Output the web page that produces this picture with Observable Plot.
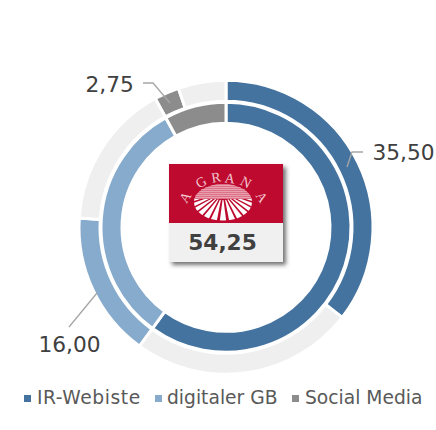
<!DOCTYPE html>
<html>
<head>
<meta charset="utf-8">
<script src="https://cdn.jsdelivr.net/npm/d3@7"></script>
<script src="https://cdn.jsdelivr.net/npm/@observablehq/plot@0.6"></script>
<style>
html,body{margin:0;padding:0;background:#fff;width:436px;height:430px;overflow:hidden}
#chart svg{display:block}
#legend{position:relative;height:50px;font:18.7px "DejaVu Sans",sans-serif;color:#595959}
#legend span{position:absolute;top:7px;white-space:nowrap;line-height:22px}
#legend i{position:absolute;width:7px;height:7px;top:15px}
</style>
</head>
<body>
<div id="chart"></div>
<div id="legend"></div>
<script>
const series = ["IR-Webiste", "digitaler GB", "Social Media"];
const colors = ["#44739f", "#87abcd", "#8c8c8c"];
const restColor = "#efefef";
const values = [35.5, 16.0, 2.75];
const valueLabels = ["35,50", "16,00", "2,75"];
const total = "54,25";
const ringStart = [0, 60, 92];
const innerShare = [60, 32, 8];
const rest = "rest";

const outerSegments = [
  ...series.map((s, i) => ({ s, a: ringStart[i], b: ringStart[i] + values[i], t0: .55, t1: 1 })),
  ...series.map((s, i) => ({ s: rest, a: ringStart[i] + values[i], b: ringStart[i + 1] ?? 100, t0: .55, t1: 1 }))
];
const innerSegments = series.map((s, i) => ({ s, a: ringStart[i], b: ringStart[i] + innerShare[i], t0: 0, t1: .45 }));

const cx = 226, cy = 227.3, gap = 3;

function polar(index, scales, v) {
  const g = d3.create("svg:g").attr("transform", `translate(${cx},${cy})`);
  const arc = d3.arc();
  for (const i of index) {
    g.append("path")
      .attr("d", arc({
        startAngle: v.x1[i] * Math.PI / 180,
        endAngle: v.x2[i] * Math.PI / 180,
        innerRadius: v.y1[i] - gap / 2,
        outerRadius: v.y2[i] + gap / 2
      }))
      .attr("fill", v.fill[i])
      .attr("stroke", "#fff")
      .attr("stroke-width", gap);
  }
  return g.node();
}

function leaders() {
  const g = d3.create("svg:g").attr("fill", "none").attr("stroke", "#a6a6a6").attr("stroke-width", 1.3);
  for (const p of [
    [[143, 83], [153, 83], [170, 103]],
    [[363, 152], [352, 152], [347, 167]],
    [[69, 327], [97, 293]]
  ]) g.append("path").attr("d", d3.line()(p));
  return g.node();
}

function logo() {
  const ns = d3.create("svg:g");
  const defs = ns.append("defs");
  defs.append("filter").attr("id", "sh").attr("x", "-10%").attr("y", "-10%").attr("width", "125%").attr("height", "125%")
    .append("feDropShadow").attr("dx", 3).attr("dy", 3).attr("stdDeviation", 2).attr("flood-color", "#444").attr("flood-opacity", .75);
  const cp = defs.append("clipPath").attr("id", "lo");
  cp.append("ellipse").attr("cx", 223).attr("cy", 202.3).attr("rx", 29).attr("ry", 18.3);
  ns.append("rect").attr("x", 169).attr("y", 164).attr("width", 114).attr("height", 98).attr("fill", "#f0f0f0").attr("filter", "url(#sh)");
  ns.append("rect").attr("x", 169).attr("y", 164).attr("width", 114).attr("height", 59).attr("fill", "#bd0a2e");
  const e = ns.append("g").attr("clip-path", "url(#lo)");
  e.append("rect").attr("x", 190).attr("y", 184).attr("width", 66).attr("height", 15).attr("fill", "#dc7288");
  for (let y = 185; y < 199; y += 2) e.append("rect").attr("x", 190).attr("y", y).attr("width", 66).attr("height", 1).attr("fill", "#ea9fae");
  const fan = [-80,-68,-56,-45,-34,-23,-12,0,12,23,34,45,56,68,80];
  for (const d of fan) {
    const t = d * Math.PI / 180, w = .075;
    const pt = (a, r) => [223 + r * Math.sin(a) * 1.55, 192 + r * Math.cos(a)];
    e.append("path").attr("fill", "#fff").attr("d", d3.line()([pt(t - w * .5, 8), pt(t + w * .5, 8), pt(t + w, 40), pt(t - w, 40)]) + "Z");
  }
  e.append("rect").attr("x", 190).attr("y", 184).attr("width", 66).attr("height", 15).attr("fill", "#dc7288");
  for (let y = 185; y < 199; y += 2) e.append("rect").attr("x", 190).attr("y", y).attr("width", 66).attr("height", 1).attr("fill", "#ea9fae");
  const letters = [["A",185,197,-58],["G",201,182,-30],["R",216,177,-10],["A",230,178,8],["N",246,182,28],["A",262,197,56]];
  for (const [c, x, y, r] of letters)
    ns.append("text").text(c).attr("transform", `translate(${x},${y}) rotate(${r})`).attr("text-anchor", "middle").attr("dy", ".35em")
      .attr("font-family", "Liberation Serif").attr("font-size", 14).attr("fill", "#f4c6d0");
  return ns.node();
}

const labelStyle = { frameAnchor: "top-left", fontFamily: "DejaVu Sans", fontSize: 21.7, fill: "#404040", textAnchor: "start", lineAnchor: "middle" };

const plot = Plot.plot({
  width: 436,
  height: 380,
  margin: 0,
  style: { background: "#fff", overflow: "visible" },
  x: { domain: [0, 100], range: [0, 360], axis: null },
  y: { domain: [0, 1], range: [105.5, 145.5], axis: null },
  color: { domain: [...series, rest], range: [...colors, restColor] },
  marks: [
    Plot.rect([...outerSegments, ...innerSegments], {
      x1: "a", x2: "b", y1: "t0", y2: "t1", fill: "s",
      render: (index, scales, v) => polar(index, scales, v)
    }),
    leaders,
    logo,
    Plot.text([total], { text: d => d, frameAnchor: "top-left", dx: 222, dy: 243, textAnchor: "middle", lineAnchor: "middle", fontFamily: "DejaVu Sans", fontWeight: "bold", fontSize: 21.7, fill: "#404040" }),
    Plot.text([valueLabels[0]], { text: d => d, ...labelStyle, dx: 372, dy: 153 }),
    Plot.text([valueLabels[1]], { text: d => d, ...labelStyle, dx: 38, dy: 345 }),
    Plot.text([valueLabels[2]], { text: d => d, ...labelStyle, dx: 85, dy: 85 })
  ]
});
document.getElementById("chart").append(plot);

const legendPos = [[24, 37], [155, 167], [292, 305]];
const legendSpacing = ["0.55px", "0", "0"];
const legend = d3.select("#legend");
series.forEach((s, i) => {
  legend.append("i").style("left", legendPos[i][0] + "px").style("background", colors[i]);
  legend.append("span").style("left", legendPos[i][1] + "px").style("letter-spacing", legendSpacing[i]).text(s);
});
</script>
</body>
</html>
